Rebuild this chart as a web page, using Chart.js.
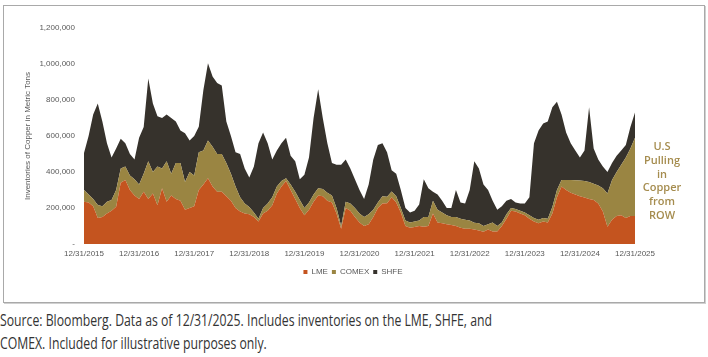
<!DOCTYPE html>
<html>
<head>
<meta charset="utf-8">
<script src="https://cdn.jsdelivr.net/npm/chart.js@4/dist/chart.umd.min.js"></script>
<style>
  html, body { margin: 0; padding: 0; background: #fff; }
  body { width: 708px; height: 357px; position: relative; overflow: hidden; font-family: "Open Sans", "Liberation Sans", sans-serif; }
  #box { position: absolute; left: 3px; top: 5px; width: 700px; height: 296px; border: 1px solid #a9a9a9; box-shadow: 1px 1px 0 #d0d0d0; }
  #c { position: absolute; left: 4px; top: 6px; }
  #note { position: absolute; left: 632px; width: 60px; top: 139px; text-align: center; font: 600 11px/13.8px "Open Sans", sans-serif; color: #a58c4e; }
  .cap { position: absolute; left: 0; font-size: 16px; color: #333; white-space: nowrap; transform-origin: 0 50%; }
</style>
</head>
<body>
<div id="box"></div>
<canvas id="c" width="700" height="296"></canvas>
<div id="note">U.S<br>Pulling<br>in<br>Copper<br>from<br>ROW</div>
<div class="cap" id="cap1" style="top:309px">Source: Bloomberg. Data as of 12/31/2025. Includes inventories on the LME, SHFE, and</div>
<div class="cap" id="cap2" style="top:332px">COMEX. Included for illustrative purposes only.</div>
<script>
// Year-end tick labels (one every 12 monthly points)
const tickLabels = ['12/31/2015','12/31/2016','12/31/2017','12/31/2018','12/31/2019','12/31/2020','12/31/2021','12/31/2022','12/31/2023','12/31/2024','12/31/2025'];

// Monthly inventories, thousands of metric tons (Dec 2015 .. Dec 2025)
const lme = [235,230,210,144,150,170,185,207,340,356,300,270,250,290,250,280,215,310,235,270,250,240,190,200,210,300,330,365,320,290,
  290,265,240,200,180,170,165,150,125,170,185,215,280,320,350,300,250,200,160,190,235,270,265,240,230,170,85,200,185,150,
  120,100,110,150,200,225,226,260,230,175,100,90,95,100,96,100,170,120,115,110,105,100,90,85,85,80,75,68,80,70,
  70,100,140,185,180,170,160,140,125,115,125,120,170,260,319,300,285,275,265,258,250,244,225,180,96,135,155,160,145,155,155];
const comex = [65,45,40,73,60,65,59,93,80,74,80,90,80,100,210,120,215,110,225,120,200,210,155,200,170,210,190,210,220,210,
  210,185,150,120,80,55,40,25,15,30,40,45,40,30,15,30,40,45,40,40,40,40,40,45,40,30,15,35,40,50,
  50,50,55,40,30,40,37,31,35,25,30,30,30,30,54,50,70,70,60,50,45,50,50,50,45,38,40,32,30,50,
  30,20,25,15,15,15,15,20,20,20,20,20,35,40,37,56,70,79,88,92,95,91,100,130,185,221,245,280,335,375,435];
const shfe = [205,325,470,563,470,325,236,230,165,130,120,110,260,260,460,380,280,280,260,310,230,180,270,175,220,142,335,429,390,395,
  380,230,210,190,240,195,165,255,420,420,335,210,200,210,225,160,170,115,185,250,425,550,395,275,180,240,340,235,195,160,
  130,100,165,280,320,295,247,119,125,100,70,55,60,90,210,160,50,85,65,40,50,150,90,90,170,342,305,230,190,120,
  90,90,75,50,35,40,50,100,415,495,525,540,555,490,364,264,205,166,127,170,415,195,145,120,119,94,90,80,70,120,140];

const labels = lme.map((_, i) => (i % 12 === 0 ? tickLabels[i / 12] : ''));
const toTons = a => a.map(v => v * 1000);
const tickFont = { family: 'Liberation Sans', size: 8 };

new Chart(document.getElementById('c'), {
  type: 'line',
  data: {
    labels,
    datasets: [
      { label: 'LME', data: toTons(lme), backgroundColor: '#c4541f', borderColor: '#c4541f', borderWidth: 0, fill: 'origin' },
      { label: 'COMEX', data: toTons(comex), backgroundColor: '#9a8542', borderColor: '#9a8542', borderWidth: 0, fill: '-1' },
      { label: 'SHFE', data: toTons(shfe), backgroundColor: '#36322c', borderColor: '#36322c', borderWidth: 0, fill: '-1' }
    ]
  },
  options: {
    responsive: false,
    animation: false,
    layout: { padding: { left: 15, right: 17, top: 22, bottom: 16 } },
    elements: { point: { radius: 0 }, line: { tension: 0 } },
    plugins: {
      legend: {
        position: 'bottom',
        labels: { boxWidth: 4, boxHeight: 4, padding: 4, color: '#595959', font: tickFont }
      },
      tooltip: { enabled: false }
    },
    scales: {
      x: {
        grid: { display: false, drawTicks: false },
        border: { display: false },
        afterFit: s => { s.height = 20; },
        ticks: { autoSkip: false, maxRotation: 0, padding: 5, color: '#595959', font: tickFont }
      },
      y: {
        stacked: true,
        min: 0, max: 1200000,
        grid: { display: false, drawTicks: false },
        border: { display: false },
        afterFit: s => { s.width = 65; },
        title: { display: true, text: 'Inventories of Copper in Metric Tons', color: '#595959', font: tickFont },
        ticks: { stepSize: 200000, padding: 9, color: '#595959', font: tickFont,
          callback: v => (v === 0 ? '-' : v.toLocaleString('en-US')) }
      },
      yRight: {
        position: 'right',
        grid: { display: false, drawTicks: false },
        border: { display: false },
        ticks: { display: false },
        afterFit: s => { s.width = 52; }
      }
    }
  }
});

// fit caption lines to the reference's condensed width
const c1 = document.getElementById('cap1'), c2 = document.getElementById('cap2');
const k = 492 / c1.getBoundingClientRect().width;
c1.style.transform = c2.style.transform = 'scaleX(' + k + ')';
</script>
</body>
</html>
